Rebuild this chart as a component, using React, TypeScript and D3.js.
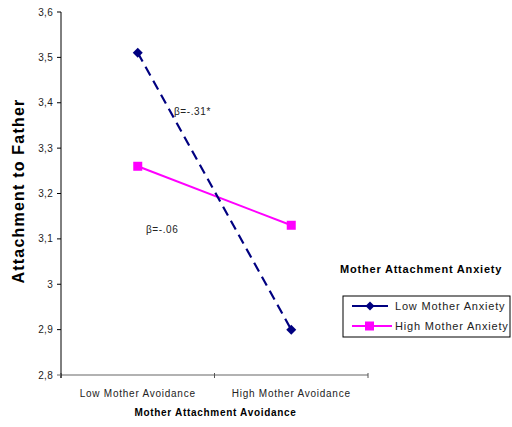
import React from "react";
import * as d3 from "d3";

const categories = ["Low Mother Avoidance", "High Mother Avoidance"];
const lowAnxiety = [3.51, 2.9];
const highAnxiety = [3.26, 3.13];
const seriesNames = ["Low Mother Anxiety", "High Mother Anxiety"];
const tickValues = [3.6, 3.5, 3.4, 3.3, 3.2, 3.1, 3.0, 2.9, 2.8];
const tickLabels = ["3,6", "3,5", "3,4", "3,3", "3,2", "3,1", "3", "2,9", "2,8"];
const annotations = [
  { text: "β=-.31*", x: 174, v: 3.38 },
  { text: "β=-.06", x: 146, v: 3.12 },
];

const W = 512;
const H = 427;
const left = 61;
const right = 368;
const top = 12;
const bottom = 375;
const font = "Liberation Sans, Arial, sans-serif";

export default function App() {
  const x = d3.scaleBand<string>().domain(categories).range([left, right]).paddingInner(0).paddingOuter(0);
  const xc = (c: string) => (x(c) as number) + x.bandwidth() / 2;
  const y = d3.scaleLinear().domain([2.8, 3.6]).range([bottom, top]);
  const line = d3
    .line<[number, number]>()
    .x((d) => d[0])
    .y((d) => d[1]);
  const lowPts: [number, number][] = categories.map((c, i) => [xc(c), y(lowAnxiety[i])]);
  const highPts: [number, number][] = categories.map((c, i) => [xc(c), y(highAnxiety[i])]);
  const diamond = (cx: number, cy: number, r: number) =>
    `M${cx},${cy - r}L${cx + r},${cy}L${cx},${cy + r}L${cx - r},${cy}Z`;

  const legX = 343;
  const legY = 296;
  return (
    <svg width={W} height={H} style={{ position: "absolute", left: 0, top: 0, background: "#fff" }} fontFamily={font}>
      <rect x={0} y={0} width={W} height={H} fill="#fff" />
      {/* x axis */}
      <line x1={left} x2={right} y1={bottom} y2={bottom} stroke="#666" strokeWidth={1.2} />
      {[left, x(categories[1]) as number, right].map((px, i) => (
        <line key={i} x1={px} x2={px} y1={bottom - 2} y2={bottom + 3} stroke="#555" />
      ))}
      {/* y axis */}
      <line x1={left} x2={left} y1={top} y2={bottom + 3} stroke="#000" strokeWidth={1} />
      {tickValues.map((v, i) => (
        <g key={i}>
          <line x1={left - 4} x2={left} y1={y(v)} y2={y(v)} stroke={i === tickValues.length - 1 ? "#666" : "#000"} />
          <text x={left - 8} y={y(v)} dy="0.35em" textAnchor="end" fontSize={10} letterSpacing={0.3} fill="#222">
            {tickLabels[i]}
          </text>
        </g>
      ))}
      {categories.map((c) => (
        <text key={c} x={xc(c)} y={397} textAnchor="middle" fontSize={10} letterSpacing={0.75} fill="#222">
          {c}
        </text>
      ))}
      <text x={(left + right) / 2 + 1} y={416} textAnchor="middle" fontSize={10} fontWeight="bold" letterSpacing={0.7} fill="#000">
        Mother Attachment Avoidance
      </text>
      <text
        transform={`translate(24,${191}) rotate(-90)`}
        textAnchor="middle"
        fontSize={16}
        fontWeight="bold"
        letterSpacing={1.2}
        fill="#000"
      >
        Attachment to Father
      </text>
      {/* series */}
      <path d={line(highPts) as string} fill="none" stroke="#FF00FF" strokeWidth={2} />
      <path d={line(lowPts) as string} fill="none" stroke="#000080" strokeWidth={2.2} strokeDasharray="10,6" />
      {lowPts.map((p, i) => (
        <path key={i} d={diamond(p[0], p[1], 5)} fill="#000080" />
      ))}
      {highPts.map((p, i) => (
        <rect key={i} x={p[0] - 4.5} y={p[1] - 4.5} width={9} height={9} fill="#FF00FF" />
      ))}
      {annotations.map((a) => (
        <text key={a.text} x={a.x} y={y(a.v)} fontSize={10} letterSpacing={0.6} fill="#222" dy="0.35em">
          {a.text}
        </text>
      ))}
      {/* legend */}
      <text x={340} y={273} fontSize={11} fontWeight="bold" letterSpacing={0.8} fill="#000">
        Mother Attachment Anxiety
      </text>
      <rect x={legX} y={legY} width={167} height={41} fill="#fff" stroke="#000" strokeWidth={1} />
      <line x1={352} x2={388} y1={306} y2={306} stroke="#000080" strokeWidth={2} />
      <path d={diamond(370, 306, 4.5)} fill="#000080" />
      <text x={395} y={306} dy="0.35em" fontSize={11} letterSpacing={0.8} fill="#222">
        {seriesNames[0]}
      </text>
      <line x1={352} x2={392} y1={326} y2={326} stroke="#FF00FF" strokeWidth={2} />
      <rect x={365} y={321.5} width={9} height={9} fill="#FF00FF" />
      <text x={395} y={326} dy="0.35em" fontSize={11} letterSpacing={0.8} fill="#222">
        {seriesNames[1]}
      </text>
    </svg>
  );
}
